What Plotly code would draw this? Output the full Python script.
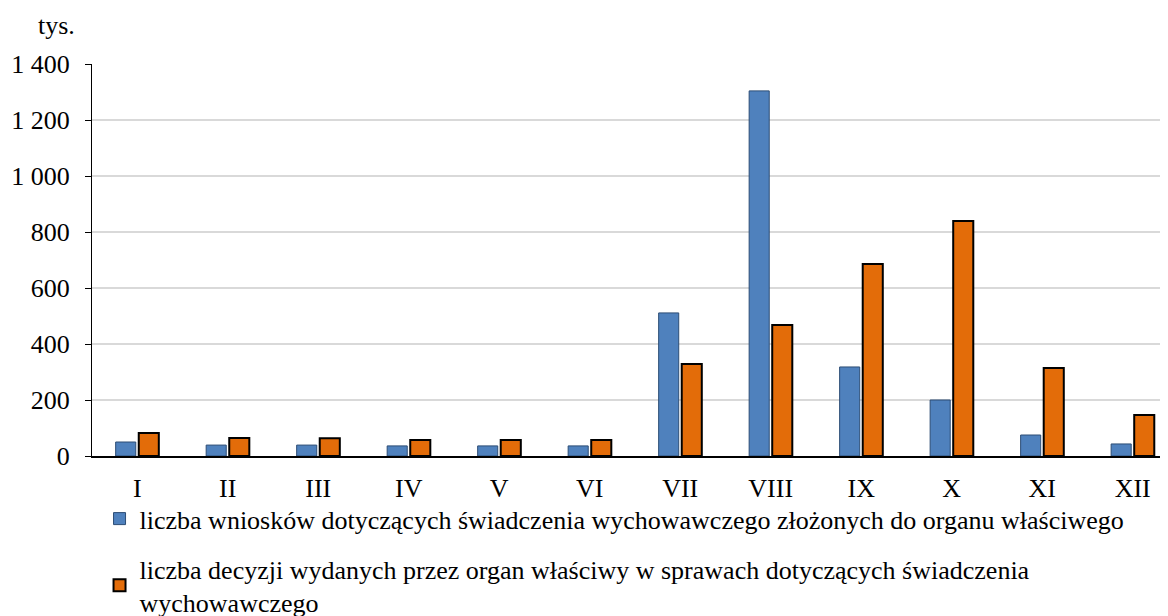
import plotly.graph_objects as go

months = ["I", "II", "III", "IV", "V", "VI", "VII", "VIII", "IX", "X", "XI", "XII"]
wnioski = [50, 39, 39, 36, 36, 36, 511, 1304, 318, 200, 75, 43]
decyzje = [82, 64, 63, 57, 57, 57, 329, 468, 686, 839, 314, 146]

name_wnioski = "liczba wniosków dotyczących świadczenia wychowawczego złożonych do organu właściwego"
name_decyzje = ("liczba decyzji wydanych przez organ właściwy w sprawach dotyczących świadczenia<br>"
                "wychowawczego")

serif = "Liberation Serif"
font_ = dict(family=serif, size=26, color="black")

fig = go.Figure()
fig.add_trace(go.Bar(x=months, y=wnioski, name=name_wnioski,
                     marker=dict(color="#4f81bd", line=dict(color="#2c4d75", width=1)),
                     legendgroup="a"))
fig.add_trace(go.Bar(x=months, y=decyzje, name=name_decyzje,
                     marker=dict(color="#e36c09", line=dict(color="black", width=2)),
                     legendgroup="b"))

# page has an 8px body margin, so the figure is drawn 8px smaller and shifted
fig.update_layout(
    width=1160, height=608,
    font=font_,
    separators=", ",
    plot_bgcolor="white",
    paper_bgcolor="white",
    barmode="group",
    bargap=0.49,
    bargroupgap=0.13,
    margin=dict(l=84, r=0, t=56, b=160, autoexpand=False),
    showlegend=True,
    legend=dict(orientation="v", x=0.007, y=-0.1, xanchor="left", yanchor="top",
                bgcolor="rgba(0,0,0,0)",
                font=dict(family=serif, size=26, color="black"),
                tracegroupgap=13, itemwidth=30),
    annotations=[dict(text="tys.", xref="paper", yref="paper", x=-0.052, y=1.097,
                      xanchor="left", yanchor="middle", showarrow=False,
                      font=dict(family=serif, size=26, color="black"))],
)
fig.update_yaxes(range=[0, 1400], dtick=200, tickformat=",d",
                 showgrid=True, gridcolor="#d9d9d9", gridwidth=1.5,
                 showline=True, linecolor="black", linewidth=1,
                 ticks="outside", ticklen=6, tickcolor="black",
                 ticklabelstandoff=10, zeroline=False)
fig.update_xaxes(range=[-0.5, 11.39], showline=True, linecolor="black", linewidth=1.5,
                 ticks="", showgrid=False, ticklabelstandoff=8)

fig.write_html("out.html")
